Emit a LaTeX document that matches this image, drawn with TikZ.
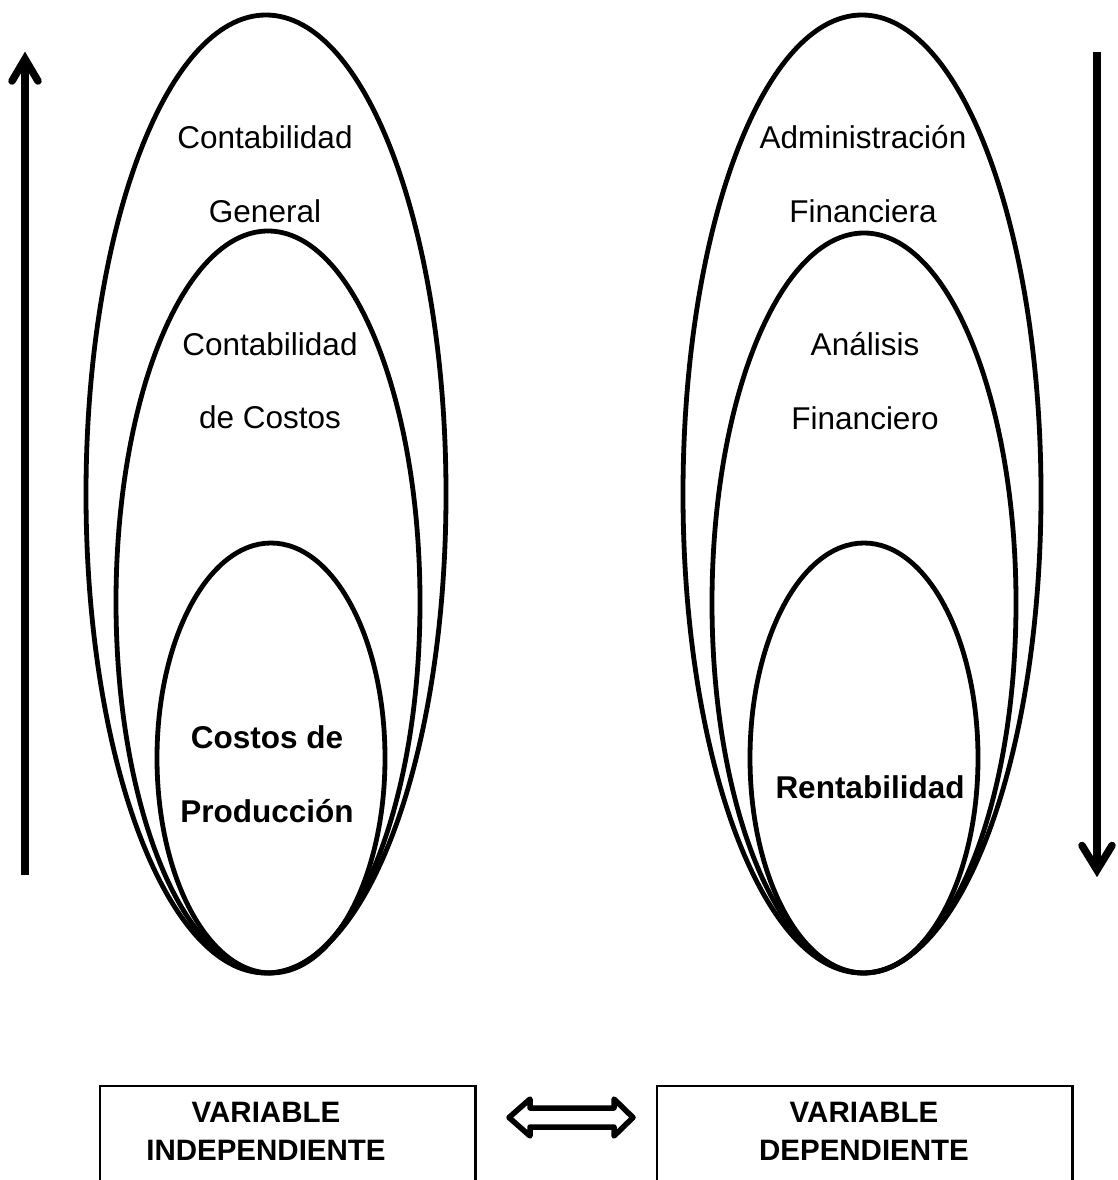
\documentclass[tikz,border=0pt]{standalone}
\usepackage{fontspec}
\setmainfont{Liberation Sans}
\usetikzlibrary{shapes.geometric}
\begin{document}
\begin{tikzpicture}[x=1pt,y=-1pt,
  oval/.style={draw, ellipse, line width=4.8pt, inner sep=0pt, outer sep=0pt},
  lbl/.style={anchor=base, inner sep=0pt, font=\fontsize{31.5}{38}\selectfont},
  blbl/.style={anchor=base, inner sep=0pt, font=\fontsize{31.5}{38}\selectfont\bfseries},
  boxlbl/.style={anchor=base, inner sep=0pt, font=\fontsize{29.5}{38}\selectfont\bfseries},
  frame/.style={line width=2.2pt},
  shaft/.style={line width=7.5pt, line cap=butt},
  barb/.style={line width=7.5pt, line cap=round, line join=miter},
  link/.style={line width=5.5pt, line join=round}
]
\useasboundingbox (0,0) rectangle (1117,1180);

% ---- left group: nested ovals ----
\node[oval, minimum width=360pt, minimum height=958pt] (cg) at (266,494) {};
\node[oval, minimum width=304pt, minimum height=742pt] (cc) at (268,602) {};
\node[oval, minimum width=228pt, minimum height=430pt] (cp) at (271,758) {};

\node[lbl] (cg1) at (265,148) {Contabilidad};
\node[lbl] (cg2) at (265,222) {General};
\node[lbl] (cc1) at (270,355) {Contabilidad};
\node[lbl] (cc2) at (270,428) {de Costos};
\node[blbl] (cp1) at (267,748) {Costos de};
\node[blbl] (cp2) at (267,822) {Producción};

% ---- right group: nested ovals ----
\node[oval, minimum width=358pt, minimum height=958pt] (af) at (862,494) {};
\node[oval, minimum width=304pt, minimum height=740pt] (an) at (864,603) {};
\node[oval, minimum width=228pt, minimum height=430pt] (re) at (864,758) {};

\node[lbl] (af1) at (863,148) {Administración};
\node[lbl] (af2) at (863,222) {Financiera};
\node[lbl] (an1) at (865,355) {Análisis};
\node[lbl] (an2) at (865,429) {Financiero};
\node[blbl] (re1) at (870,798) {Rentabilidad};

% ---- vertical arrows ----
\coordinate (upS) at (25,875);
\coordinate (upT) at (25,59);
\draw[shaft] (upS) -- (upT);
\draw[barb] ([shift={(-13,22)}]upT) -- (upT) -- ([shift={(13,22)}]upT);

\coordinate (dnS) at (1097,52);
\coordinate (dnT) at (1097,870);
\draw[shaft] (dnS) -- (dnT);
\draw[barb] ([shift={(-15,-24.5)}]dnT) -- (dnT) -- ([shift={(15,-24.5)}]dnT);

% ---- variable boxes (open at the bottom) ----
\node[minimum width=375pt, minimum height=96pt, inner sep=0pt, anchor=north west] (vi) at (100,1086) {};
\node[minimum width=415pt, minimum height=96pt, inner sep=0pt, anchor=north west] (vd) at (657,1086) {};
\draw[frame] (vi.south west) -- (vi.north west) -- (vi.north east) -- (vi.south east);
\draw[frame] (vd.south west) -- (vd.north west) -- (vd.north east) -- (vd.south east);

\node[boxlbl] (vi1) at (266,1122) {VARIABLE};
\node[boxlbl] (vi2) at (266,1160) {INDEPENDIENTE};
\node[boxlbl] (vd1) at (864,1122) {VARIABLE};
\node[boxlbl] (vd2) at (864,1160) {DEPENDIENTE};

% ---- two-headed block arrow between the boxes ----
\coordinate (mid) at (571,1117.5);
\draw[link] ([shift={(-62,0)}]mid) -- ([shift={(-41,-18.5)}]mid) -- ([shift={(-41,-9.5)}]mid)
  -- ([shift={(43,-9.5)}]mid) -- ([shift={(43,-18.5)}]mid) -- ([shift={(62,0)}]mid)
  -- ([shift={(43,18.5)}]mid) -- ([shift={(43,9.5)}]mid) -- ([shift={(-41,9.5)}]mid)
  -- ([shift={(-41,18.5)}]mid) -- cycle;
\end{tikzpicture}
\end{document}
